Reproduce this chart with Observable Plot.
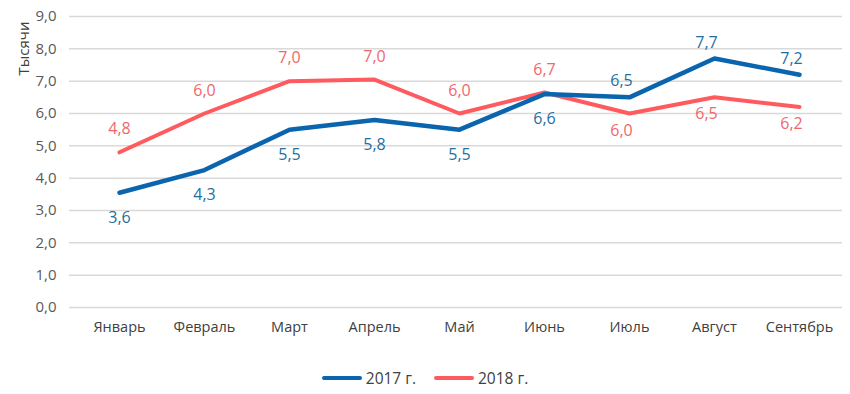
<!DOCTYPE html>
<html>
<head>
<meta charset="utf-8">
<script src="https://cdn.jsdelivr.net/npm/d3@7"></script>
<script src="https://cdn.jsdelivr.net/npm/@observablehq/plot@0.6"></script>
<style>
  html, body { margin: 0; padding: 0; background: #fff; }
  body { width: 850px; height: 394px; font-family: "Open Sans", sans-serif; }
  #legend { display: flex; justify-content: center; align-items: center; gap: 18px; margin-top: 27px; font-size: 15.5px; color: #404040; }
  .item { display: flex; align-items: center; gap: 4px; }
  .sw { width: 40px; height: 4px; border-radius: 2px; }
</style>
</head>
<body>
<div id="chart"></div>
<div id="legend"></div>
<script>
const months = ["Январь", "Февраль", "Март", "Апрель", "Май", "Июнь", "Июль", "Август", "Сентябрь"];
const values2017 = [3.55, 4.25, 5.5, 5.8, 5.5, 6.6, 6.5, 7.7, 7.2];
const labels2017 = ["3,6", "4,3", "5,5", "5,8", "5,5", "6,6", "6,5", "7,7", "7,2"];
const values2018 = [4.8, 6.0, 7.0, 7.05, 6.0, 6.65, 6.0, 6.5, 6.2];
const labels2018 = ["4,8", "6,0", "7,0", "7,0", "6,0", "6,7", "6,0", "6,5", "6,2"];
const seriesNames = ["2017 г.", "2018 г."];
const yTicks = [0, 1, 2, 3, 4, 5, 6, 7, 8, 9];
const yTitle = "Тысячи";

const blue = "#0A65AE", blueText = "#1F6F9F";
const red = "#FF5A5E", redText = "#F0676B";

const d17 = months.map((m, i) => ({month: m, value: values2017[i], label: labels2017[i], i}));
const d18 = months.map((m, i) => ({month: m, value: values2018[i], label: labels2018[i], i}));

const fmt = d => d.toFixed(1).replace(".", ",");
const font = "'Open Sans', sans-serif";

const chart = Plot.plot({
  width: 850,
  height: 340,
  marginLeft: 72,
  marginRight: 5,
  marginTop: 16,
  marginBottom: 33,
  style: {fontFamily: font, background: "#fff"},
  x: {type: "point", domain: months, padding: 0.5},
  y: {domain: [0, 9]},
  marks: [
    Plot.ruleY(yTicks, {stroke: "#D9D9D9", strokeWidth: 1.5, dx: -3}),
    Plot.axisY({ticks: yTicks, tickSize: 0, tickPadding: 16, tickFormat: fmt, fontSize: 15, fill: "#595959", label: null}),
    Plot.axisX({tickSize: 0, tickPadding: 14, fontSize: 14.5, fill: "#404040", label: null}),
    Plot.text([yTitle], {frameAnchor: "top-left", rotate: -90, dx: -54, dy: 59, fontSize: 15, fill: "#404040"}),
    Plot.line(d18, {x: "month", y: "value", stroke: red, strokeWidth: 4, strokeLinejoin: "round"}),
    Plot.line(d17, {x: "month", y: "value", stroke: blue, strokeWidth: 4.5, strokeLinejoin: "round"}),
    Plot.text(d17.filter(d => d.i < 6), {x: "month", y: "value", text: "label", dy: 25, fontSize: 16, fill: blueText}),
    Plot.text(d17.filter(d => d.i >= 6), {x: "month", y: "value", text: "label", dy: -16, dx: -8, fontSize: 16, fill: blueText}),
    Plot.text(d18.filter(d => d.i < 6), {x: "month", y: "value", text: "label", dy: -23, fontSize: 16, fill: redText}),
    Plot.text(d18.filter(d => d.i >= 6), {x: "month", y: "value", text: "label", dy: 17, dx: -8, fontSize: 16, fill: redText})
  ]
});
document.getElementById("chart").appendChild(chart);

const legend = document.getElementById("legend");
[[seriesNames[0], blue], [seriesNames[1], red]].forEach(([name, c]) => {
  const it = document.createElement("div");
  it.className = "item";
  it.innerHTML = `<span class="sw" style="background:${c}"></span><span>${name}</span>`;
  legend.appendChild(it);
});
</script>
</body>
</html>
